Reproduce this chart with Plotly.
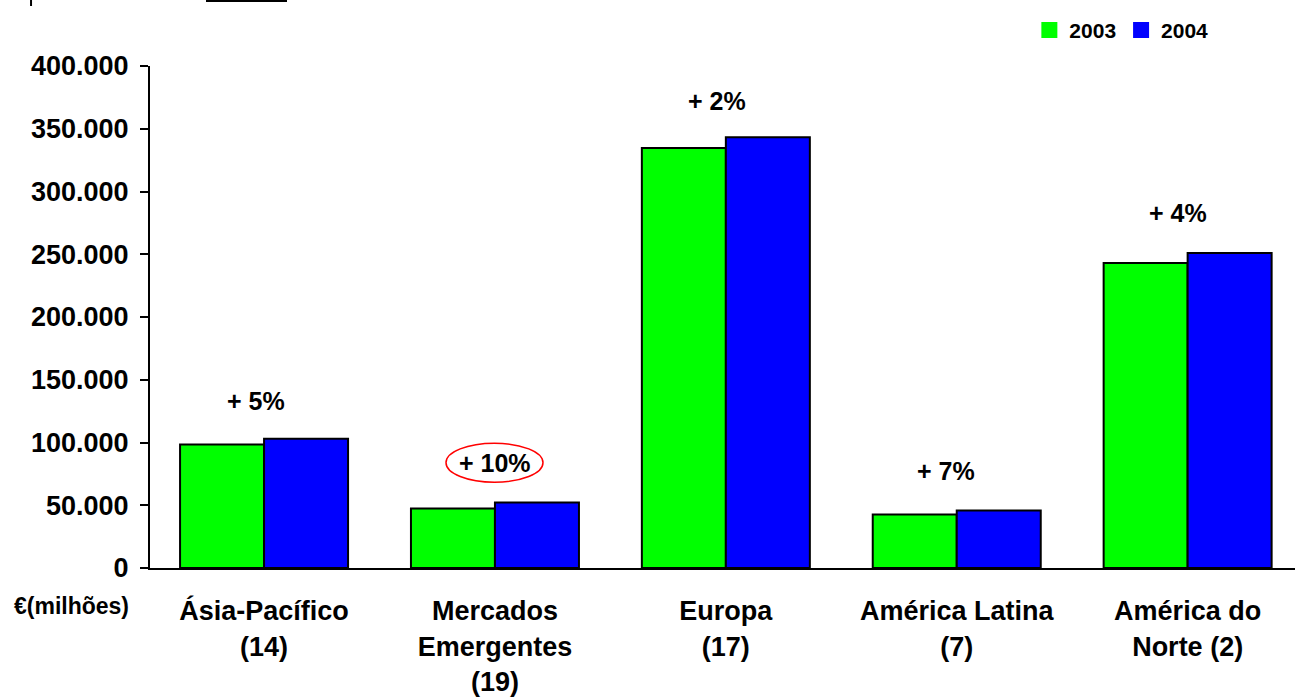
import plotly.graph_objects as go

categories = ["Ásia-Pacífico<br>(14)", "Mercados<br>Emergentes<br>(19)", "Europa<br>(17)",
              "América Latina<br>(7)", "América do<br>Norte (2)"]
values_2003 = [98400, 47400, 334700, 42600, 243000]
values_2004 = [102900, 52150, 343200, 45800, 251000]
growth_labels = ["+ 5%", "+ 10%", "+ 2%", "+ 7%", "+ 4%"]
growth_label_y = [132900, 83500, 372000, 77100, 282800]
growth_label_dx = [-0.035, 0.0, -0.04, -0.045, -0.04]
y_ticks = [0, 50000, 100000, 150000, 200000, 250000, 300000, 350000, 400000]
y_tick_text = ["0", "50.000", "100.000", "150.000", "200.000", "250.000", "300.000", "350.000", "400.000"]

FONT = "Arial, Liberation Sans, sans-serif"
idx = list(range(len(categories)))

fig = go.Figure()
fig.add_trace(go.Bar(x=idx, y=values_2003, name="2003", marker=dict(color="#00FF00", line=dict(color="black", width=2)), showlegend=False))
fig.add_trace(go.Bar(x=idx, y=values_2004, name="2004", marker=dict(color="#0000FF", line=dict(color="black", width=2)), showlegend=False))
# legend entries
fig.add_trace(go.Scatter(x=[None], y=[None], mode="markers", name="<b>2003</b>",
                         marker=dict(symbol="square", size=20, color="#00FF00")))
fig.add_trace(go.Scatter(x=[None], y=[None], mode="markers", name="<b>2004</b>",
                         marker=dict(symbol="square", size=20, color="#0000FF")))

for i, (t, yv, dx) in enumerate(zip(growth_labels, growth_label_y, growth_label_dx)):
    fig.add_annotation(x=i + dx, y=yv, text="<b>%s</b>" % t, showarrow=False,
                       font=dict(family=FONT, size=25, color="black"), xanchor="center", yanchor="middle")

fig.add_shape(type="circle", xref="x", yref="y", x0=0.788, x1=1.208, y0=68340, y1=99440,
              line=dict(color="red", width=1.5))

fig.add_annotation(xref="paper", yref="paper", x=(71 - 150) / 1145, y=(568 - 606) / 502,
                   text="<b>€(milhões)</b>",
                   showarrow=False, font=dict(family=FONT, size=23, color="black"),
                   xanchor="center", yanchor="middle")

# cut-off fragments at top
fig.add_shape(type="line", xref="paper", yref="paper", x0=-0.1039, x1=-0.1039, y0=1.1195, y1=1.14,
              line=dict(color="black", width=2))
fig.add_shape(type="line", xref="paper", yref="paper", x0=(206 - 150) / 1145, x1=(287 - 150) / 1145,
              y0=1.1305, y1=1.1305, line=dict(color="black", width=3))

fig.update_layout(
    width=1295, height=698,
    margin=dict(l=150, r=0, t=66, b=130),
    paper_bgcolor="white", plot_bgcolor="white",
    barmode="group", bargap=0.2724, bargroupgap=0,
    font=dict(family=FONT, color="black"),
    legend=dict(orientation="h", x=0.768, y=1.112, xanchor="left", yanchor="top",
                font=dict(family=FONT, size=21, color="black"), itemwidth=30,
                bgcolor="rgba(0,0,0,0)"),
    xaxis=dict(range=[-0.494, 4.465], tickmode="array", tickvals=idx,
               ticktext=["<b>%s</b>" % c for c in categories],
               tickfont=dict(family=FONT, size=27, color="black"),
               showline=True, linecolor="black", linewidth=2, ticks="", showgrid=False,
               zeroline=False, ticklabelstandoff=18),
    yaxis=dict(range=[0, 400000], tickmode="array", tickvals=y_ticks,
               ticktext=["<b>%s</b>" % t for t in y_tick_text],
               tickfont=dict(family=FONT, size=27, color="black"),
               showline=True, linecolor="black", linewidth=2, ticks="outside", ticklen=8,
               tickwidth=2, tickcolor="black", showgrid=False, zeroline=False,
               ticklabelstandoff=6),
)

fig.write_html("out.html")
